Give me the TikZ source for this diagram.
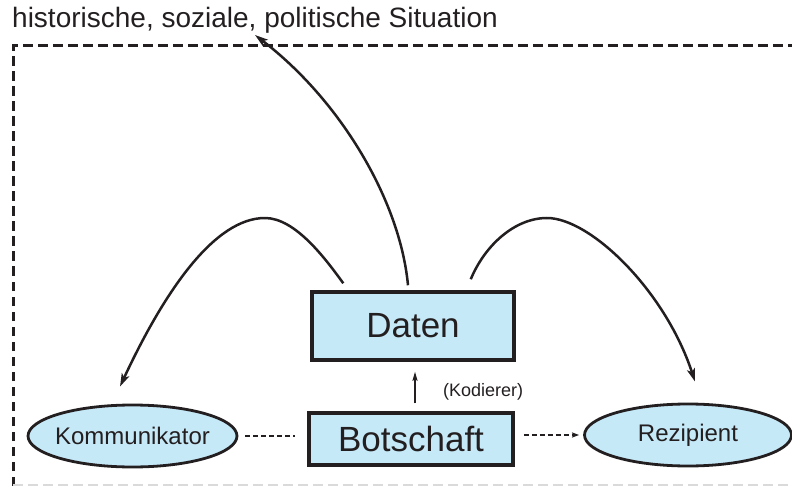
\documentclass[tikz,border=0pt]{standalone}
\usepackage{fontspec}
\setmainfont{Liberation Sans}
\usetikzlibrary{arrows.meta,calc,shapes.geometric}
\definecolor{ink}{HTML}{231F20}
\definecolor{boxblue}{HTML}{C6E9F8}
\definecolor{framegray}{HTML}{DADADA}
\tikzset{
  blockbox/.style={draw=ink, fill=boxblue, line width=3.5pt, rectangle, inner sep=0pt, text=ink},
  roundbox/.style={draw=ink, fill=boxblue, line width=2.8pt, ellipse, inner xsep=-25pt, inner ysep=0pt, text=ink},
  flow/.style={draw=ink, line width=2.5pt, -{Stealth[length=13pt,width=8pt,inset=3pt]}},
  bow/.style={draw=ink, line width=2.5pt},
  thinlink/.style={draw=ink, line width=1.6pt, dash pattern=on 5pt off 3pt},
  frameline/.style={draw=ink, line width=3pt, dash pattern=on 9.5pt off 5.5pt},
}
\begin{document}
\begin{tikzpicture}[x=1pt,y=-1pt]
\useasboundingbox (0,0) rectangle (792,486);

% surrounding situation frame
\draw[frameline] (13,486) -- (13,46) -- (792,46);
\draw[framegray, line width=2pt, dash pattern=on 9.5pt off 5.5pt] (13,485) -- (792,485);
\node[anchor=base west, inner sep=0pt, text=ink, font=\fontsize{28}{30}\selectfont] (title) at (12,28) {historische, soziale, politische Situation};
\coordinate (situation) at (255,35);

% boxes and ellipses
\node[blockbox, minimum width=202pt, minimum height=68pt, font=\fontsize{35}{38}\selectfont] (daten) at (413,326) {Daten};
\node[blockbox, minimum width=204pt, minimum height=52pt, font=\fontsize{35}{38}\selectfont] (botschaft) at (411,439) {Botschaft};
\node[roundbox, minimum width=209pt, minimum height=62pt, font=\fontsize{24}{26}\selectfont] (komm) at (132.5,436) {Kommunikator};
\node[roundbox, minimum width=207pt, minimum height=62pt, font=\fontsize{24}{26}\selectfont] (rez) at (688,435) {Rezipient};

% encoding arrow
\draw[ink, line width=1.6pt, -{Stealth[length=9pt,width=5pt,inset=1.5pt]}] ($(botschaft.north)+(4,-8)$) -- ($(daten.south)+(2,10)$);
\node[anchor=base west, inner sep=0pt, text=ink, font=\fontsize{18}{20}\selectfont] (kodierer) at (443,396) {(Kodierer)};

% dashed links
\draw[thinlink] ($(komm.east)+(7,0)$) -- ($(botschaft.west)+(-12,-3)$);
\draw[thinlink, -{Stealth[length=7pt,width=5pt,inset=1pt]}] ($(botschaft.east)+(9,-4)$) -- ($(rez.west)+(-4,0)$);

% arcs out of the data box
\draw[flow] ($(daten.north)+(-5,-5)$) .. controls (400,200) and (340,100) .. (situation);
\draw[bow] ($(daten.north west)+(33,-7)$) .. controls (325,258) and (295,218) .. (265,218);
\draw[flow] (265,218) .. controls (215,218) and (165,290) .. ($(komm.north)+(-12.5,-17)$);
\draw[bow] ($(daten.north east)+(-45,-11)$) .. controls (485,245) and (515,218) .. (547,218);
\draw[flow] (547,218) .. controls (590,218) and (665,290) .. ($(rez.north)+(7,-21)$);
\end{tikzpicture}
\end{document}
